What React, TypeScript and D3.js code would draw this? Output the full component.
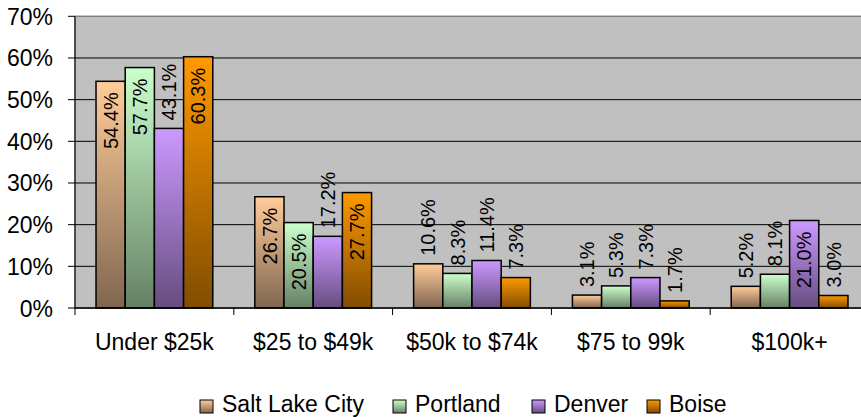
import React from "react";
import * as d3 from "d3";

const categories = ["Under $25k", "$25 to $49k", "$50k to $74k", "$75 to 99k", "$100k+"];
const seriesNames = ["Salt Lake City", "Portland", "Denver", "Boise"];
const saltLake = [54.4, 26.7, 10.6, 3.1, 5.2];
const portland = [57.7, 20.5, 8.3, 5.3, 8.1];
const denver = [43.1, 17.2, 11.4, 7.3, 21.0];
const boise = [60.3, 27.7, 7.3, 1.7, 3.0];
const yTicks = [0, 10, 20, 30, 40, 50, 60, 70];
// labels drawn inside the bar top (series index, category index)
const insideLabels = ["0-0", "0-1", "1-0", "1-1", "2-4", "3-0", "3-1"];

const topColors = ["#FFCC99", "#CCFFCC", "#CC99FF", "#FF9900"];
const bottomColors = ["#806650", "#668066", "#664D80", "#804D00"];

const W = 861;
const H = 417;
const plotLeft = 75;
const plotRight = 869;
const plotTop = 16.3;
const plotBottom = 308;
const FONT = "'Liberation Sans', Arial, sans-serif";

export default function App() {
  const values = [saltLake, portland, denver, boise];
  const x = d3.scaleBand<string>().domain(categories).range([plotLeft, plotRight]).paddingInner(0).paddingOuter(0);
  const xs = d3.scaleBand<number>().domain([0, 1, 2, 3]).range([0, x.bandwidth()]).paddingInner(0).paddingOuter(0.135 / (1 - 0.135) * 0.5 * 4 / 1 * 0 + 0.72);
  const y = d3.scaleLinear().domain([0, 70]).range([plotBottom, plotTop]);

  const legendBoxes = [200, 393, 532, 647];

  return (
    <svg width={W} height={H} style={{ position: "fixed", left: 0, top: 0, background: "#fff" }} fontFamily={FONT}>
      <defs>
        {topColors.map((c, i) => (
          <linearGradient key={i} id={`g${i}`} x1="0" y1="0" x2="0" y2="1">
            <stop offset="0" stopColor={c} />
            <stop offset="1" stopColor={bottomColors[i]} />
          </linearGradient>
        ))}
      </defs>
      <rect x={plotLeft} y={plotTop} width={plotRight - plotLeft} height={plotBottom - plotTop} fill="#C0C0C0" stroke="#808080" strokeWidth={1.5} />
      {yTicks.filter((t) => t > 0 && t < 70).map((t) => (
        <line key={t} x1={plotLeft} x2={plotRight} y1={y(t)} y2={y(t)} stroke="#000" strokeWidth={1} />
      ))}
      {yTicks.map((t) => (
        <g key={t}>
          <line x1={plotLeft - 7} x2={plotLeft} y1={y(t)} y2={y(t)} stroke="#000" strokeWidth={1} />
          <text x={53} y={y(t) + 8.5} fontSize={23} textAnchor="end" fill="#000">{t}%</text>
        </g>
      ))}
      <line x1={plotLeft} x2={plotLeft} y1={plotTop} y2={plotBottom} stroke="#000" strokeWidth={1} />
      {values.map((vals, s) =>
        vals.map((v, c) => {
          const bx = (x(categories[c]) as number) + (xs(s) as number);
          const bw = xs.bandwidth();
          const top = y(v);
          return (
            <rect key={`${s}-${c}`} x={bx} y={top} width={bw} height={plotBottom - top} fill={`url(#g${s})`} stroke="#000" strokeWidth={1.5} />
          );
        })
      )}
      {categories.map((c, i) => (
        <line key={c} x1={(x(c) as number)} x2={(x(c) as number)} y1={plotBottom} y2={plotBottom + 7} stroke="#000" strokeWidth={1} />
      ))}
      <line x1={plotLeft} x2={plotRight} y1={plotBottom} y2={plotBottom} stroke="#000" strokeWidth={1.5} />
      {values.map((vals, s) =>
        vals.map((v, c) => {
          const cx = (x(categories[c]) as number) + (xs(s) as number) + xs.bandwidth() / 2;
          const top = y(v);
          const inside = insideLabels.includes(`${s}-${c}`);
          const ly = inside ? top + 11 : top - 8;
          return (
            <text
              key={`l${s}-${c}`}
              transform={`translate(${cx},${ly}) rotate(-90)`}
              textAnchor={inside ? "end" : "start"}
              dy="0.36em"
              fontSize={20}
              fill="#000"
            >
              {v.toFixed(1)}%
            </text>
          );
        })
      )}
      {categories.map((c) => (
        <text key={c} x={(x(c) as number) + x.bandwidth() / 2} y={350} fontSize={23} textAnchor="middle" fill="#000">{c}</text>
      ))}
      {seriesNames.map((n, i) => (
        <g key={n}>
          <rect x={legendBoxes[i]} y={400} width={13} height={13} fill={`url(#g${i})`} stroke="#000" strokeWidth={1} />
          <text x={legendBoxes[i] + 22} y={412} fontSize={23} fill="#000">{n}</text>
        </g>
      ))}
    </svg>
  );
}
